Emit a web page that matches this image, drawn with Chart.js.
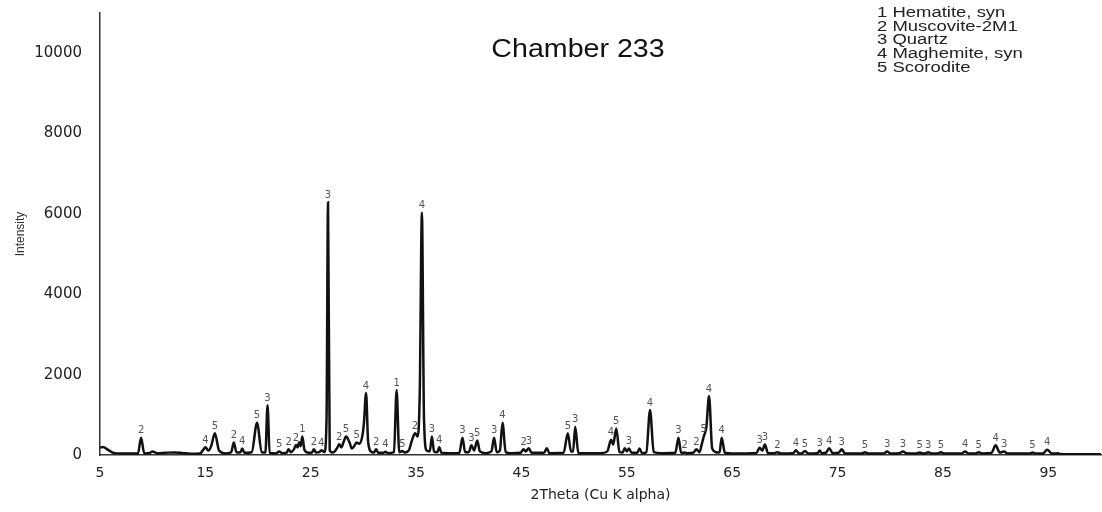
<!DOCTYPE html>
<html>
<head>
  <meta charset="utf-8">
  <title>Chamber 233</title>
  <script src="https://cdn.jsdelivr.net/npm/chart.js"></script>
  <style>
    body { margin: 0; background: #fff; }
  </style>
</head>
<body>
  <canvas id="xrd" width="1102" height="512"></canvas>

  <script>
    // Scan: 2Theta position and intensity, one line per region
    var twoTheta = [
      5.0, 5.3, 5.7, 6.2, 7.0, 8.6, 8.9, 9.2, 9.7, 10.0, 10.4, 11.2, 12.0, 12.8, 13.6, 14.5,
      14.8, 15.0, 15.3, 15.55, 15.9, 16.3, 16.9, 17.45, 17.7, 17.95, 18.3, 18.5, 18.7, 19.4, 19.9, 20.35, 20.7, 20.9, 21.1,
      21.7, 22.0, 22.3, 22.7, 22.9, 23.1, 23.4, 23.6, 23.75, 23.9, 24.05, 24.2, 24.4, 24.8, 25.1, 25.3, 25.5, 25.8, 26.0, 26.3, 26.5, 26.64, 26.8,
      27.1, 27.5, 27.7, 27.9, 28.1, 28.35, 28.7, 28.9, 29.1, 29.35, 29.6, 29.9, 30.05, 30.25, 30.45, 30.8, 31.0, 31.2, 31.4, 31.9, 32.1, 32.3,
      32.9, 33.15, 33.4, 33.7, 33.9, 34.3, 34.6, 34.9, 35.15, 35.35, 35.55, 35.75, 36.0, 36.3, 36.5, 36.7, 37.0, 37.2, 37.4,
      38.0, 39.1, 39.4, 39.65, 40.0, 40.25, 40.5, 40.8, 41.05, 41.6, 42.15, 42.4, 42.65, 42.95, 43.2, 43.5, 44.0,
      44.9, 45.2, 45.4, 45.7, 45.95, 47.15, 47.4, 47.65, 49.0, 49.4, 49.7, 49.9, 50.1, 50.4,
      52.5, 53.15, 53.5, 53.7, 54.0, 54.3, 54.6, 54.8, 55.0, 55.2, 55.45, 56.0, 56.2, 56.45, 56.85, 57.2, 57.55, 58.3,
      59.6, 59.9, 60.15, 60.5, 60.75, 61.3, 61.6, 61.9, 62.1, 62.3, 62.55, 62.8, 63.1, 63.6, 63.8, 64.0, 64.3,
      65.0, 67.3, 67.6, 67.85, 68.1, 68.4, 69.0, 69.3, 69.6, 70.8, 71.05, 71.3, 71.6, 71.9, 72.2, 73.1, 73.3, 73.5, 73.9, 74.2, 74.55, 75.1, 75.4, 75.7,
      77.3, 77.6, 77.9, 79.4, 79.7, 80.0, 80.9, 81.2, 81.5, 82.5, 82.8, 83.1, 83.3, 83.6, 83.9, 84.5, 84.8, 85.1,
      86.8, 87.1, 87.4, 88.1, 88.4, 88.7, 89.6, 90.0, 90.4, 90.8, 91.1, 93.2, 93.5, 93.8, 94.5, 94.9, 95.3, 95.7, 95.9, 96.1, 97.0, 100
    ];
    var intensity = [
      180, 200, 140, 60, 35, 35, 430, 40, 50, 90, 45, 55, 65, 50, 30, 40,
      130, 190, 110, 220, 540, 110, 40, 70, 310, 70, 60, 160, 55, 70, 800, 70, 60, 1240, 50,
      40, 90, 45, 55, 140, 70, 140, 250, 190, 320, 220, 460, 130, 55, 60, 140, 60, 70, 120, 70, 900, 6290, 120,
      60, 170, 270, 190, 310, 460, 300, 160, 210, 310, 280, 480, 800, 1540, 320, 70, 60, 140, 55, 55, 80, 45,
      70, 1615, 70, 100, 60, 110, 360, 540, 460, 1600, 6030, 900, 110, 90, 460, 90, 70, 190, 55,
      45, 50, 430, 70, 70, 240, 110, 360, 90, 45, 90, 430, 70, 110, 800, 70, 45,
      55, 140, 90, 170, 55, 55, 170, 45, 55, 540, 90, 90, 700, 45,
      45, 90, 380, 260, 660, 70, 60, 170, 90, 160, 55, 55, 160, 45, 70, 1120, 70, 45,
      55, 430, 55, 60, 45, 55, 140, 70, 260, 460, 700, 1470, 160, 60, 70, 430, 55,
      35, 50, 180, 110, 260, 45, 45, 70, 40, 45, 120, 45, 40, 100, 40, 45, 110, 45, 55, 170, 45, 55, 140, 40,
      35, 70, 35, 40, 90, 40, 45, 90, 45, 40, 60, 40, 40, 70, 40, 40, 70, 40,
      40, 90, 40, 40, 70, 40, 50, 240, 60, 90, 40, 35, 60, 35, 40, 130, 40, 35, 45, 25, 20, 20
    ];

    // Phase numbers written above the peaks
    var peakAt = [
      8.9, 15.0, 15.9, 17.7, 18.5, 19.9, 20.9, 22.0, 22.9, 23.6, 24.2, 25.3, 26.0, 26.64, 27.7, 28.35, 29.35,
      30.25, 31.2, 32.1, 33.15, 33.7, 34.9, 35.55, 36.5, 37.2, 39.4, 40.25, 40.8, 42.4, 43.2, 45.2, 45.7,
      49.4, 50.1, 53.5, 54.0, 55.2, 57.2, 59.9, 60.5, 61.6, 62.3, 62.8, 64.0, 67.6, 68.1, 69.3,
      71.05, 71.9, 73.3, 74.2, 75.4, 77.6, 79.7, 81.2, 82.8, 83.6, 84.8, 87.1, 88.4, 90.0, 90.8, 93.5, 94.9
    ];
    var peakTop = [
      430, 190, 540, 310, 160, 800, 1240, 90, 140, 250, 460, 140, 120, 6290, 270, 460, 310,
      1540, 140, 80, 1615, 100, 540, 6030, 460, 190, 430, 240, 360, 430, 800, 140, 170,
      540, 700, 380, 660, 160, 1120, 430, 60, 140, 460, 1470, 430, 180, 260, 70,
      120, 100, 110, 170, 140, 70, 90, 90, 60, 70, 70, 90, 70, 240, 90, 60, 130
    ];
    var peakPhase = [
      '2', '4', '5', '2', '4', '5', '3', '5', '2', '2', '1', '2', '4', '3', '2', '5', '5',
      '4', '2', '4', '1', '5', '2', '4', '3', '4', '3', '3', '5', '3', '4', '2', '3',
      '5', '3', '4', '5', '3', '4', '3', '2', '2', '5', '4', '4', '3', '3', '2',
      '4', '5', '3', '4', '3', '5', '3', '3', '5', '3', '5', '4', '5', '4', '3', '5', '4'
    ];

    var phaseNames = ['1 Hematite, syn', '2 Muscovite-2M1', '3 Quartz', '4 Maghemite, syn', '5 Scorodite'];
    var xTicks = [5, 15, 25, 35, 45, 55, 65, 75, 85, 95];
    var yTicks = [0, 2000, 4000, 6000, 8000, 10000];

    var points = twoTheta.map(function (t, i) { return { x: t, y: intensity[i] }; });

    // Numbers over the peaks, the title and the phase list
    var extraText = {
      id: 'extraText',
      afterDatasetsDraw: function (chart) {
        var ctx = chart.ctx;
        var sx = chart.scales.x, sy = chart.scales.y;
        ctx.save();
        ctx.font = '10px "DejaVu Sans"';
        ctx.fillStyle = '#555';
        ctx.textAlign = 'center';
        ctx.textBaseline = 'bottom';
        peakAt.forEach(function (p, i) {
          ctx.fillText(peakPhase[i], sx.getPixelForValue(p), sy.getPixelForValue(peakTop[i]) - 2);
        });
        ctx.restore();
      },
      afterDraw: function (chart) {
        var ctx = chart.ctx;
        ctx.save();
        ctx.fillStyle = '#111';
        ctx.textBaseline = 'middle';
        ctx.textAlign = 'center';
        ctx.font = '26px "Liberation Sans"';
        ctx.translate(578, 50);
        ctx.scale(1.1, 1);
        ctx.fillText('Chamber 233', 0, 0);
        ctx.restore();

        ctx.save();
        ctx.fillStyle = '#222';
        ctx.textBaseline = 'middle';
        ctx.textAlign = 'left';
        ctx.font = '14px "Liberation Sans"';
        phaseNames.forEach(function (name, i) {
          ctx.save();
          ctx.translate(877, 13 + i * 13.7);
          ctx.scale(1.32, 1);
          ctx.fillText(name, 0, 0);
          ctx.restore();
        });
        ctx.restore();
      }
    };

    var ctx = document.getElementById('xrd').getContext('2d');
    var xrdChart = new Chart(ctx, {
      type: 'scatter',
      data: {
        datasets: [{
          data: points,
          showLine: true,
          borderColor: '#111',
          borderWidth: 2.5,
          pointRadius: 0,
          cubicInterpolationMode: 'monotone'
        }]
      },
      options: {
        responsive: false,
        animation: false,
        layout: { padding: { top: 13, right: 1 } },
        plugins: {
          legend: { display: false },
          tooltip: { enabled: false }
        },
        scales: {
          x: {
            type: 'linear',
            min: 5,
            max: 100,
            afterBuildTicks: function (s) { s.ticks = xTicks.map(function (v) { return { value: v }; }); },
            afterFit: function (s) { s.height = 57; s.paddingLeft = 0; s.paddingRight = 0; },
            grid: { display: false, drawTicks: false },
            border: { color: '#333', width: 1.5 },
            ticks: { font: { family: 'DejaVu Sans', size: 14 }, color: '#222', padding: 10, maxRotation: 0 },
            title: {
              display: true,
              text: '2Theta (Cu K alpha)',
              font: { family: 'DejaVu Sans', size: 14 },
              color: '#222',
              padding: { top: 0, bottom: 8 }
            }
          },
          y: {
            min: 0,
            max: 11000,
            afterBuildTicks: function (s) { s.ticks = yTicks.map(function (v) { return { value: v }; }); },
            afterFit: function (s) { s.width = 100; s.paddingTop = 0; s.paddingBottom = 0; },
            grid: { display: false, drawTicks: false },
            border: { color: '#333', width: 1.5 },
            ticks: {
              font: { family: 'DejaVu Sans', size: 15 },
              color: '#222',
              padding: 18,
              callback: function (v) { return String(v); }
            },
            title: {
              display: true,
              text: 'Intensity',
              font: { family: 'Liberation Sans', size: 12 },
              color: '#333',
              padding: { top: 13, bottom: 0 }
            }
          }
        }
      },
      plugins: [extraText]
    });
  </script>
</body>
</html>
